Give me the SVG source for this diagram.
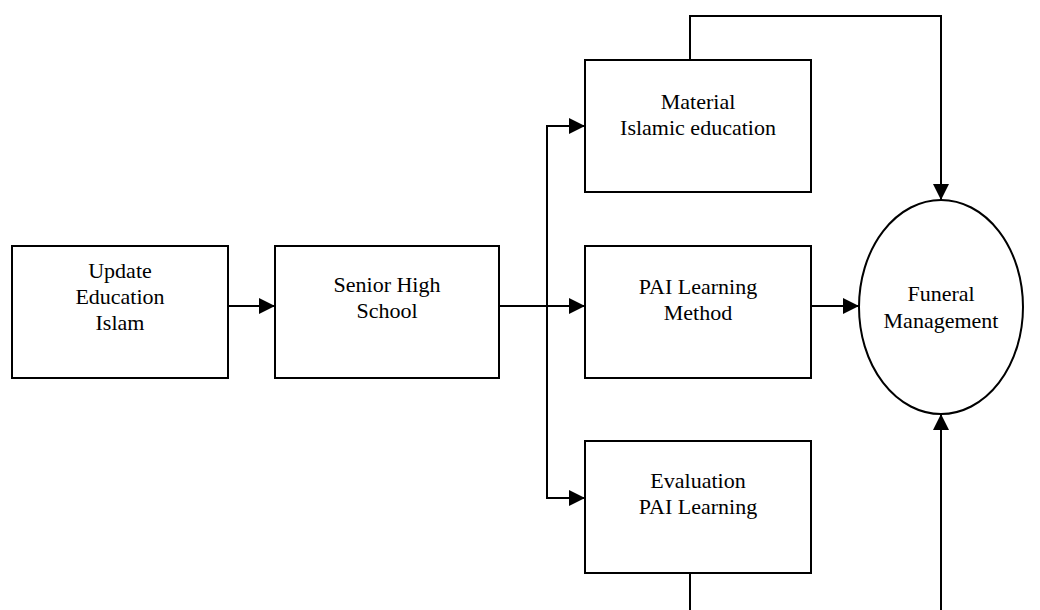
<svg xmlns="http://www.w3.org/2000/svg" width="1040" height="610" viewBox="0 0 1040 610">
<style>
.box{fill:#fff;stroke:#000;stroke-width:2}
.ln{fill:none;stroke:#000;stroke-width:2}
.t{font-family:'Liberation Serif','Times New Roman',Times,'DejaVu Serif',serif;font-size:22px;fill:#000;text-anchor:middle}
</style>
<defs>
<marker id="ah" viewBox="0 0 10 10" refX="10" refY="5" markerWidth="16" markerHeight="16" markerUnits="userSpaceOnUse" orient="auto">
<path d="M0,0 L10,5 L0,10 z" fill="#000"/>
</marker>
</defs>
<rect width="1040" height="610" fill="#fff"/>
<g id="connectors">
<line class="ln" x1="228" y1="306" x2="275" y2="306" marker-end="url(#ah)"/>
<line class="ln" x1="499" y1="306" x2="585" y2="306" marker-end="url(#ah)"/>
<polyline class="ln" points="547,306 547,126 585,126" marker-end="url(#ah)"/>
<polyline class="ln" points="547,306 547,498 585,498" marker-end="url(#ah)"/>
<line class="ln" x1="811" y1="306" x2="859" y2="306" marker-end="url(#ah)"/>
<polyline class="ln" points="690,60 690,16 941,16 941,200" marker-end="url(#ah)"/>
<line class="ln" x1="690" y1="573" x2="690" y2="612"/>
<line class="ln" x1="941" y1="612" x2="941" y2="414" marker-end="url(#ah)"/>
</g>
<g id="n1"><rect class="box" x="12" y="246" width="216" height="132"/>
<text class="t" x="120" y="278">Update</text><text class="t" x="120" y="304">Education</text><text class="t" x="120" y="330">Islam</text></g>
<g id="n2"><rect class="box" x="275" y="246" width="224" height="132"/>
<text class="t" x="387" y="292">Senior High</text><text class="t" x="387" y="318">School</text></g>
<g id="n3"><rect class="box" x="585" y="60" width="226" height="132"/>
<text class="t" x="698" y="109">Material</text><text class="t" x="698" y="135">Islamic education</text></g>
<g id="n4"><rect class="box" x="585" y="246" width="226" height="132"/>
<text class="t" x="698" y="294">PAI Learning</text><text class="t" x="698" y="320">Method</text></g>
<g id="n5"><rect class="box" x="585" y="441" width="226" height="132"/>
<text class="t" x="698" y="488">Evaluation</text><text class="t" x="698" y="514">PAI Learning</text></g>
<g id="n6"><ellipse class="box" cx="941" cy="307" rx="82" ry="107"/>
<text class="t" x="941" y="301">Funeral</text><text class="t" x="941" y="328">Management</text></g>
</svg>
